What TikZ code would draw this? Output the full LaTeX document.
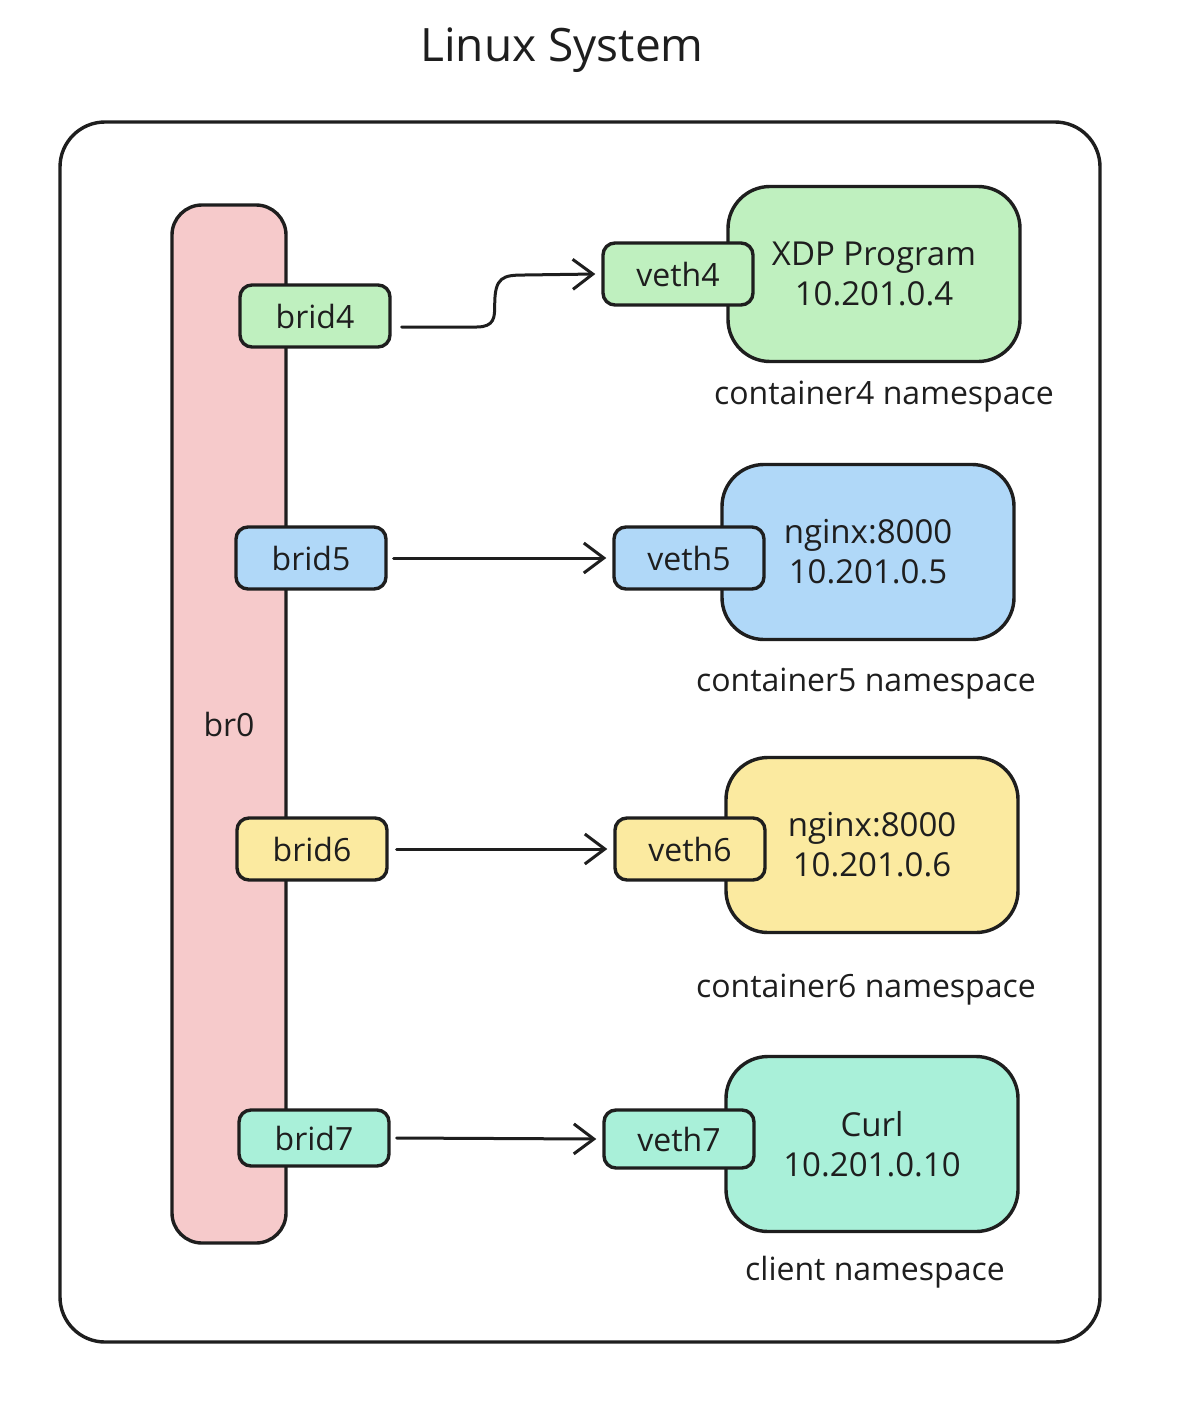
\documentclass[tikz,border=0pt]{standalone}
\usepackage{fontspec}
\setmainfont{Open Sans}
\usetikzlibrary{arrows.meta, positioning}

\definecolor{ink}{HTML}{1E1E1E}
\definecolor{greenfill}{HTML}{BFF0BF}
\definecolor{bluefill}{HTML}{B0D8F8}
\definecolor{yellowfill}{HTML}{FBEAA0}
\definecolor{tealfill}{HTML}{A9F0D9}
\definecolor{pinkfill}{HTML}{F6CACB}

\begin{document}
\begin{tikzpicture}[x=1pt, y=-1pt, line width=3.4pt, draw=ink, text=ink,
    port/.style={draw, rounded corners=12pt, minimum width=150pt,
      minimum height=62pt, inner sep=0pt, font=\fontsize{32}{36}\selectfont},
    nsbox/.style={draw, rounded corners=42pt, minimum width=292pt,
      minimum height=175pt, align=center, inner sep=0pt,
      font=\fontsize{33}{40}\selectfont},
    nslabel/.style={font=\fontsize{32}{36}\selectfont},
    link/.style={-{Straight Barb[length=20pt, width=30pt, line width=3pt]},
      line width=3pt, line cap=round}]
  \useasboundingbox (0,0) rectangle (1178,1402);
  \fill[white] (0,0) rectangle (1178,1402);

  \node[font=\fontsize{46}{52}\selectfont] (title) at (562,50) {Linux System};
  % Host frame.
  \draw[rounded corners=45pt] (60,122) rectangle (1100,1342);

  % Bridge and its ports.
  \node[draw, fill=pinkfill, rounded corners=30pt, minimum width=114pt,
    minimum height=1038pt, inner sep=0pt, font=\fontsize{32}{36}\selectfont]
    (br0) at (229,724) {br0};
  \node[port, fill=greenfill] (brid4) at (315,316) {brid4};
  \node[port, fill=bluefill] (brid5) at (311,558) {brid5};
  \node[port, fill=yellowfill] (brid6) at (312,849) {brid6};
  \node[port, fill=tealfill, minimum height=56pt] (brid7) at (314,1138) {brid7};

  % Namespaces.
  \node[nsbox, fill=greenfill] (c4) at (874,274) {XDP Program\\10.201.0.4};
  \node[nsbox, fill=bluefill] (c5) at (868,552) {nginx:8000\\10.201.0.5};
  \node[nsbox, fill=yellowfill] (c6) at (872,845) {nginx:8000\\10.201.0.6};
  \node[nsbox, fill=tealfill] (c7) at (872,1144) {Curl\\10.201.0.10};

  \node[port, fill=greenfill] (veth4) at (678,274) {veth4};
  \node[port, fill=bluefill] (veth5) at (689,558) {veth5};
  \node[port, fill=yellowfill] (veth6) at (690,849) {veth6};
  \node[port, fill=tealfill, minimum height=58pt] (veth7) at (679,1139) {veth7};

  \node[nslabel] (l4) at (884,397) {container4 namespace};
  \node[nslabel] (l5) at (866,684) {container5 namespace};
  \node[nslabel] (l6) at (866,990) {container6 namespace};
  \node[nslabel] (l7) at (875,1272) {client namespace};

  % Links.
  \draw[link] ([xshift=10pt, yshift=-11pt]brid4.east) -- ++(75,0)
    .. controls +(18,0) and +(0,12) .. ++(18,-22)
    .. controls +(0,-28) and +(-22,0) .. ++(30,-30)
    -- ([xshift=-6pt]veth4.west);
  \draw[link] ([xshift=6pt]brid5.east) -- ([xshift=-6pt]veth5.west);
  \draw[link] ([xshift=8pt]brid6.east) -- ([xshift=-6pt]veth6.west);
  \draw[link] ([xshift=6pt]brid7.east) -- ([xshift=-6pt]veth7.west);
\end{tikzpicture}
\end{document}
